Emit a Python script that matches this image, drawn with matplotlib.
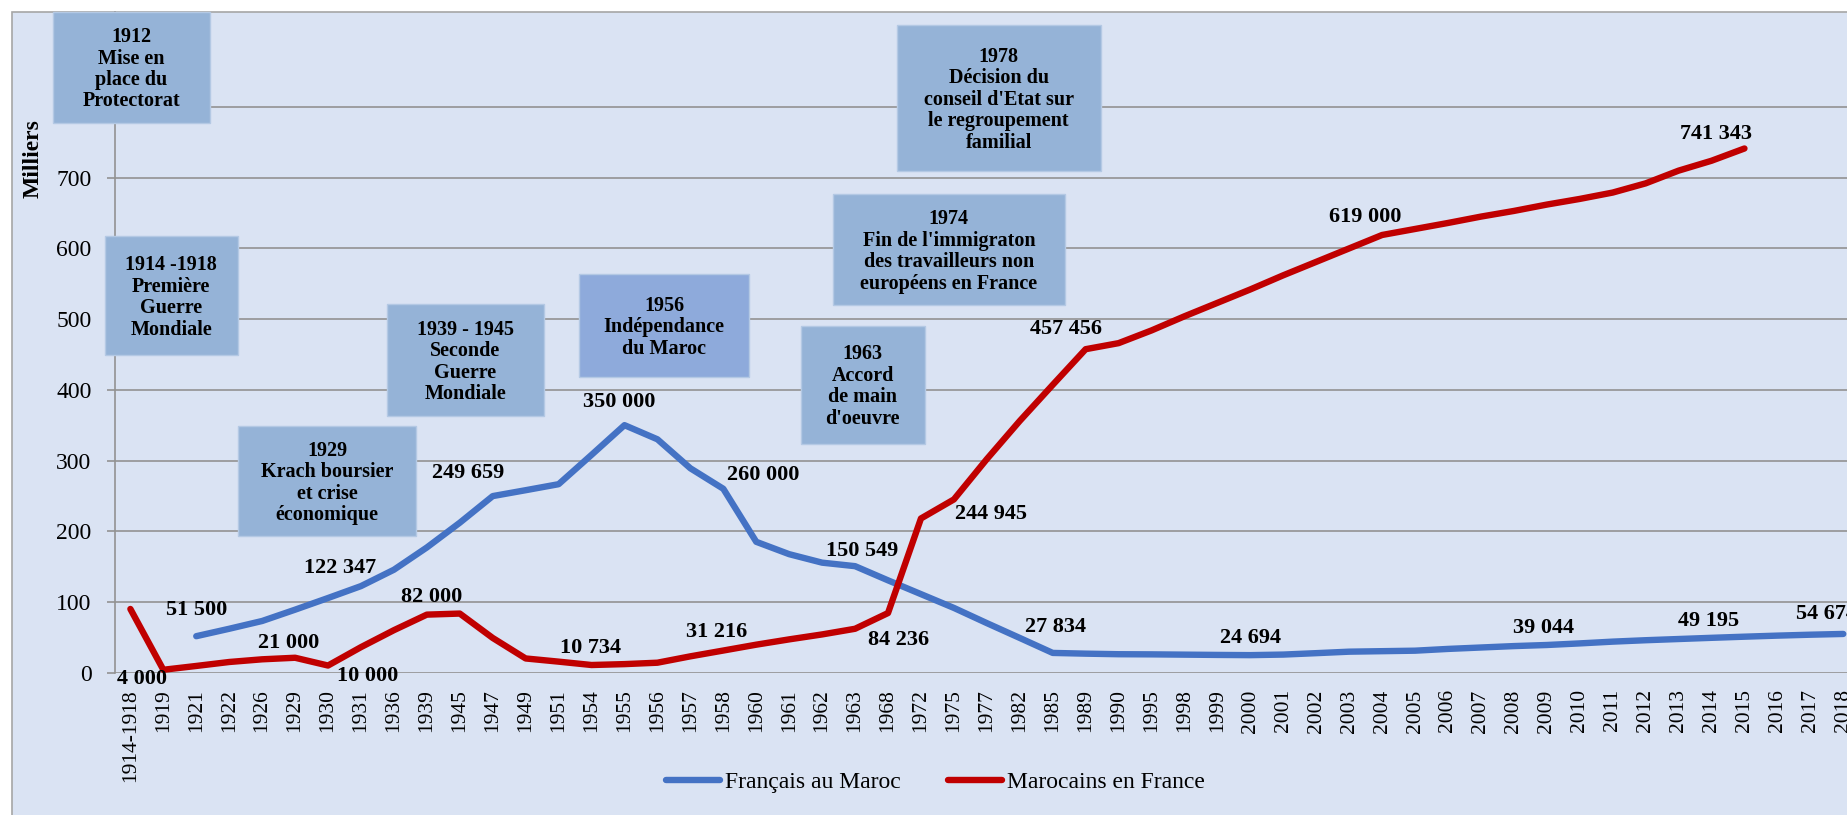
import matplotlib
matplotlib.use("Agg")
import matplotlib.pyplot as plt
from matplotlib.patches import Rectangle
import numpy as np

plt.rcParams['font.family'] = ['Liberation Serif', 'DejaVu Serif']

categories = ["1914-1918", "1919", "1921", "1922", "1926", "1929", "1930", "1931",
              "1936", "1939", "1945", "1947", "1949", "1951", "1954", "1955", "1956",
              "1957", "1958", "1960", "1961", "1962", "1963", "1968", "1972", "1975",
              "1977", "1982", "1985", "1989", "1990", "1995", "1998", "1999", "2000",
              "2001", "2002", "2003", "2004", "2005", "2006", "2007", "2008", "2009",
              "2010", "2011", "2012", "2013", "2014", "2015", "2016", "2017", "2018"]

# milliers
francais = [None, None, 51.5, 62, 73, 89, 105.5, 122.347, 145.5, 177, 212, 249.659,
            258, 266.5, 308, 350.0, 330, 289, 260.0, 185, 167.5, 155.5, 150.549,
            130.5, 111, 91.5, 70, 49, 27.834, 26.8, 26, 25.8, 25.4, 25, 24.694,
            25.5, 27.5, 29.6, 30.3, 31, 33.5, 35.5, 37.5, 39.044, 41.3, 43.8, 45.8,
            47.5, 49.195, 50.8, 52.3, 53.6, 54.674]
marocains = [90, 4.0, 9.4, 15, 18.8, 21.0, 10.0, 36, 60, 82.0, 83.5, 49, 20, 15.5,
             10.734, 12, 14, 23, 31.216, 39.5, 47, 54, 62, 84.236, 218, 244.945, 302,
             356, 407, 457.456, 466, 484, 504, 523, 542, 562, 581, 600, 619.0, 627.5,
             636, 645, 653, 662, 670, 679, 692, 710, 724, 741.343, None, None, None]

# (index, dx px, dy px) of the data labels
labels_fr = [(2, 0, 26), (7, -21, 18), (11, -25, 23), (15, -5, 23), (18, 40, 14),
             (22, 7, 15), (28, 3, 26), (34, 0, 17), (43, -3, 17), (48, -3, 17),
             (52, -17, 20)]
labels_ma = [(1, -21, -9), (5, -6, 15), (6, 40, -10), (9, 5, 18), (14, -1, 17),
             (18, -7, 19), (23, 11, -27), (25, 37, -15), (29, -20, 20), (38, -17, 18),
             (49, -28, 14)]

events = [
    ("1912\nMise en\nplace du\nProtectorat", (52.6, 12, 210, 122.5), "#95B3D7"),
    ("1914 -1918\nPremière\nGuerre\nMondiale", (104.7, 235.7, 238, 355.4), "#95B3D7"),
    ("1929\nKrach boursier\net crise\néconomique", (238.3, 426, 415.7, 536), "#95B3D7"),
    ("1939 - 1945\nSeconde\nGuerre\nMondiale", (386.7, 304, 544, 415.7), "#95B3D7"),
    ("1956\nIndépendance\ndu Maroc", (579, 274, 749.4, 376.8), "#8EAADB"),
    ("1963\nAccord\nde main\nd'oeuvre", (800.8, 325.7, 924.5, 443.6), "#95B3D7"),
    ("1974\nFin de l'immigraton\ndes travailleurs non\neuropéens en France",
     (833, 193.6, 1064.7, 305.4), "#95B3D7"),
    ("1978\nDécision du\nconseil d'Etat sur\nle regroupement\nfamilial",
     (896.7, 25, 1100.8, 170.7), "#95B3D7"),
]

W, H = 1847, 815
BLUE = "#4472C4"
RED = "#C00000"
GRID = "#929292"


def fx(px):
    return px / W


def fy(py):
    return 1 - py / H


def fmt(v):
    return f"{round(v * 1000):,}".replace(",", " ")


fig = plt.figure(figsize=(W / 100, H / 100), dpi=100)
fig.patch.set_facecolor("white")
fig.add_artist(Rectangle((fx(11.7), fy(H + 5)), fx(W), (H + 5 - 12) / H,
                         transform=fig.transFigure, facecolor="#DAE3F3",
                         edgecolor="#A6A6A6", linewidth=1.2, zorder=-10))

ax = fig.add_axes([fx(115), fy(672.6), fx(W - 115), (672.6 - 12) / H])
ax.set_facecolor("none")
xs = np.arange(len(categories))
fr = np.array([np.nan if v is None else v for v in francais])
ma = np.array([np.nan if v is None else v for v in marocains])

ax.plot(xs, fr, color=BLUE, lw=4.6, solid_joinstyle="round", solid_capstyle="round",
        label="Français au Maroc", zorder=3)
ax.plot(xs, ma, color=RED, lw=4.6, solid_joinstyle="round", solid_capstyle="round",
        label="Marocains en France", zorder=3)

for series, labs in ((fr, labels_fr), (ma, labels_ma)):
    for i, dx, dy in labs:
        ax.annotate(fmt(series[i]), (xs[i], series[i]), xytext=(dx, dy),
                    textcoords="offset pixels", ha="center", va="center",
                    fontsize=16, fontweight="bold", color="black", zorder=4,
                    annotation_clip=False)

ax.set_xlim(-0.467, (W - 130.4) / 32.94)
ax.set_ylim(0, 934.4)
ax.set_xticks(xs)
ax.set_xticklabels(categories, rotation=90, fontsize=15.5)
yt = np.arange(0, 900, 100)
ax.set_yticks(yt)
ax.set_yticklabels([str(v) if v < 800 else "" for v in yt], fontsize=17)
ax.tick_params(axis="x", length=0, pad=12)
ax.tick_params(axis="y", length=6, width=1.2, color=GRID, pad=11)
for v in yt:
    ax.axhline(v, color=GRID, lw=1.2, zorder=1)
for s in ("top", "right", "bottom"):
    ax.spines[s].set_visible(False)
ax.spines["left"].set_color(GRID)
ax.spines["left"].set_linewidth(1.2)
ax.spines["left"].set_bounds(0, 934.4)

fig.text(fx(33), fy(159), "Milliers", rotation=90, ha="center", va="center",
         fontsize=17, fontweight="bold")

for text, (x0, y0, x1, y1), col in events:
    fig.add_artist(Rectangle((fx(x0), fy(y1)), fx(x1 - x0), (y1 - y0) / H,
                             transform=fig.transFigure, facecolor=col,
                             edgecolor="#B4C9E4", linewidth=1.0, zorder=5))
    fig.text(fx((x0 + x1) / 2), fy((y0 + y1) / 2 + 2), text, ha="center", va="center",
             fontsize=14.5, fontweight="bold", linespacing=1.1, zorder=6)

fig.legend(loc="center", bbox_to_anchor=(fx(935), fy(782.7)), ncol=2, frameon=False,
           fontsize=17, handlelength=2.3, handletextpad=0.2, columnspacing=2.0,
           borderpad=0)

fig.savefig("out.png", dpi=100)
